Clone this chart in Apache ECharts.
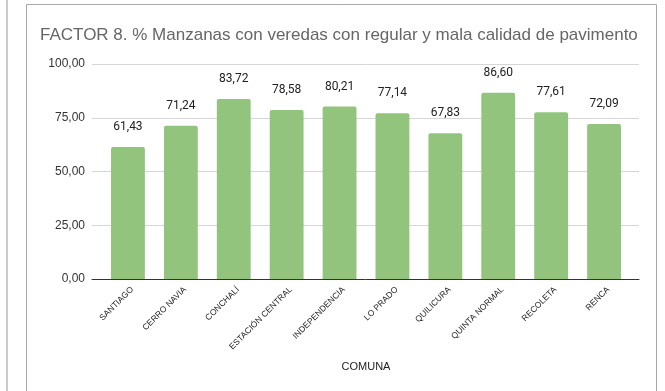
<!DOCTYPE html>
<html>
<head>
<meta charset="utf-8">
<script src="https://cdn.jsdelivr.net/npm/echarts@6/dist/echarts.min.js"></script>
<style>
  html, body { margin: 0; padding: 0; background: #ffffff; }
  #chart { width: 665px; height: 391px; }
</style>
</head>
<body>
<div id="chart"></div>
<script>
// Comunas and their share of blocks with sidewalks in regular or poor condition
const comunas = ['SANTIAGO', 'CERRO NAVIA', 'CONCHALÍ', 'ESTACIÓN CENTRAL', 'INDEPENDENCIA',
                 'LO PRADO', 'QUILICURA', 'QUINTA NORMAL', 'RECOLETA', 'RENCA'];
const porcentajes = [61.43, 71.24, 83.72, 78.58, 80.21, 77.14, 67.83, 86.60, 77.61, 72.09];
const yTicks = [0, 25, 50, 75, 100];

const titulo = 'FACTOR 8. % Manzanas con veredas con regular y mala calidad de pavimento';
const nombreEje = 'COMUNA';

const coma = v => Number(v).toFixed(2).replace('.', ',');

const chart = echarts.init(document.getElementById('chart'), null, { renderer: 'canvas' });

chart.setOption({
  animation: false,
  backgroundColor: '#ffffff',
  title: {
    text: titulo,
    left: 35,
    top: 22,
    textStyle: {
      fontFamily: 'Liberation Sans, Arial, sans-serif',
      fontSize: 17,
      fontWeight: 'normal',
      color: '#666666'
    }
  },
  graphic: [
    { type: 'rect', silent: true, z: -1,
      shape: { x: 6, y: -2, width: 2, height: 400 },
      style: { fill: '#cccccc' } },
    { type: 'rect', silent: true, z: -1,
      shape: { x: 26.5, y: 4.5, width: 630, height: 400 },
      style: { fill: 'none', stroke: '#a8a8a8', lineWidth: 1 } }
  ],
  grid: [
    // frame for the value scale: gridlines and baseline
    { left: 92, right: 26, top: 64, bottom: 112, containLabel: false },
    // inner band for the bars
    { left: 101.5, right: 34.5, top: 64, bottom: 112, containLabel: false }
  ],
  xAxis: [
    {
      gridIndex: 0, type: 'value', min: 0, max: 1,
      axisLine: { show: true, lineStyle: { color: '#333333', width: 1 } },
      axisTick: { show: false },
      axisLabel: { show: false },
      splitLine: { show: false }
    },
    {
      gridIndex: 1, type: 'category', data: comunas,
      axisLine: { show: false },
      axisTick: { show: false },
      axisLabel: {
        interval: 0,
        rotate: 45,
        margin: 5,
        verticalAlign: 'top',
        lineHeight: 12,
        fontFamily: 'Liberation Sans, Arial, sans-serif',
        fontSize: 8.5,
        color: '#222222'
      },
      name: nombreEje,
      nameLocation: 'middle',
      nameGap: 82,
      nameTextStyle: {
        fontFamily: 'Liberation Sans, Arial, sans-serif',
        fontSize: 11,
        color: '#222222'
      }
    }
  ],
  yAxis: [
    {
      gridIndex: 0, type: 'value', min: yTicks[0], max: yTicks[yTicks.length - 1], interval: 25,
      axisLine: { show: false },
      axisTick: { show: false },
      axisLabel: {
        margin: 7,
        formatter: coma,
        fontFamily: 'Liberation Sans, Arial, sans-serif',
        fontSize: 12,
        color: '#333333'
      },
      splitLine: { show: true, lineStyle: { color: '#d6d6d6', width: 1 } }
    },
    {
      gridIndex: 1, type: 'value', min: yTicks[0], max: yTicks[yTicks.length - 1], interval: 25,
      show: false
    }
  ],
  series: [
    {
      type: 'bar',
      xAxisIndex: 1,
      yAxisIndex: 1,
      data: porcentajes,
      barWidth: '64%',
      itemStyle: { color: '#93c47d', borderRadius: [2, 2, 0, 0] },
      label: {
        show: true,
        position: 'top',
        distance: 14,
        formatter: p => coma(p.value),
        fontFamily: 'Roboto, sans-serif',
        fontSize: 12,
        color: '#222222'
      }
    }
  ]
});
</script>
</body>
</html>
